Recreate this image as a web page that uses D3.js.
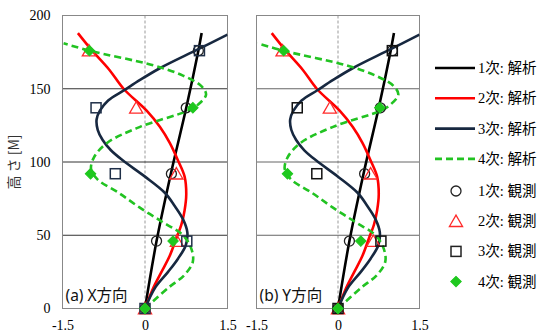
<!DOCTYPE html>
<html>
<head>
<meta charset="utf-8">
<script src="https://cdn.jsdelivr.net/npm/d3@7"></script>
<style>
  body { margin: 0; background: #fff; }
  svg { display: block; }
</style>
</head>
<body>
<script>
// heights of the observed floors [m]
let obsHeights = [0, 46, 92, 137, 176];

// observed mode shapes, X direction (a)
let obsX1 = [0, 0.21, 0.48, 0.75, 0.97];
let obsX2 = [0, 0.58, 0.57, -0.16, -1.02];
let obsX3 = [0, 0.76, -0.54, -0.89, 0.99];
let obsX4 = [0, 0.51, -0.99, 0.87, -1.01];

// observed mode shapes, Y direction (b)
let obsY1 = [0, 0.21, 0.49, 0.78, 1.0];
let obsY2 = [0, 0.65, 0.6, -0.15, -1.02];
let obsY3 = [0, 0.79, -0.39, -0.75, 1.0];
let obsY4 = [0, 0.42, -0.93, 0.77, -1.0];

// analysis mode shapes (height, value)
let mode1H = [0, 46, 92, 137, 176, 188];
let mode1V = [0, 0.21, 0.47, 0.75, 0.97, 1.03];

let mode2H = [0, 14, 25, 36, 48, 57, 67, 78, 90, 101, 113, 124, 135, 150, 163, 176, 188];
let mode2V = [0, 0.15, 0.3, 0.45, 0.57, 0.66, 0.72, 0.75, 0.72, 0.6, 0.45, 0.27, 0.03, -0.39, -0.65, -0.96, -1.22];

let mode3H = [0, 14, 25, 34, 43, 52, 61, 70, 79, 90, 101, 108, 115, 122, 129, 135, 142, 149, 156, 164, 177, 187];
let mode3V = [0, 0.18, 0.42, 0.6, 0.74, 0.77, 0.69, 0.54, 0.36, 0.0, -0.4, -0.62, -0.77, -0.86, -0.88, -0.82, -0.67, -0.38, -0.09, 0.27, 0.97, 1.5];

let mode4H = [0, 14, 23, 32, 41, 50, 59, 69, 79, 88, 95, 103, 113, 124, 135, 139, 146, 152, 159, 166, 176, 181];
let mode4V = [0, 0.42, 0.72, 0.87, 0.84, 0.69, 0.32, -0.1, -0.48, -0.86, -0.98, -0.93, -0.69, -0.09, 0.78, 0.96, 1.11, 1.02, 0.69, 0.15, -1.01, -1.48];

let yTicks = [0, 50, 100, 150, 200];
let xTicks = [-1.5, 0, 1.5];
let gridValues = [50, 100, 150];

let lineNames = ["1次: 解析", "2次: 解析", "3次: 解析", "4次: 解析"];
let obsNames = ["1次: 観測", "2次: 観測", "3次: 観測", "4次: 観測"];

let width = 541, height = 336;

let svg = d3.select("body")
  .append("svg")
    .attr("width", width)
    .attr("height", height);

let serif = "'Liberation Serif', 'Noto Sans CJK JP', serif";
let cjk = "'Noto Sans CJK JP', sans-serif";

let y = d3.scaleLinear().domain([0, 200]).range([308.5, 15.5]);

let lineStyles = [
  { color: "#000000", dash: null },
  { color: "#ff0000", dash: null },
  { color: "#172840", dash: null },
  { color: "#22c322", dash: "7,4" }
];

let modes = [
  [mode1H, mode1V], [mode2H, mode2V], [mode3H, mode3V], [mode4H, mode4V]
];

let panels = [
  { left: 62.5, right: 227.5, label: "(a) X方向", obs: [obsX1, obsX2, obsX3, obsX4], sq: "#1f2f48", grid: "#333" },
  { left: 256.5, right: 419.5, label: "(b) Y方向", obs: [obsY1, obsY2, obsY3, obsY4], sq: "#111", grid: "#666" }
];

// marker drawing helper
function drawMarker(g, k, cx, cy, sqColor) {
  if (k === 0) {
    g.append("circle").attr("cx", cx).attr("cy", cy).attr("r", 5)
      .attr("fill", "none").attr("stroke", "#222").attr("stroke-width", 1.3);
  } else if (k === 1) {
    g.append("path").attr("d", d3.symbol(d3.symbolTriangle, 75)())
      .attr("transform", "translate(" + cx + "," + (cy + 1.5) + ")")
      .attr("fill", "none").attr("stroke", "#ff2a2a").attr("stroke-width", 1.3);
  } else if (k === 2) {
    g.append("rect").attr("x", cx - 5).attr("y", cy - 5).attr("width", 10).attr("height", 10)
      .attr("fill", "none").attr("stroke", sqColor).attr("stroke-width", 1.5);
  } else {
    g.append("path").attr("d", d3.symbol(d3.symbolSquare, 55)())
      .attr("transform", "translate(" + cx + "," + cy + ") rotate(45)")
      .attr("fill", "#1ec81e").attr("stroke", "#1ec81e").attr("stroke-width", 1);
  }
}

panels.forEach(function(p, pi) {
  let x = d3.scaleLinear().domain([-1.5, 1.5]).range([p.left, p.right]);
  let g = svg.append("g");

  // zero line
  g.append("line")
    .attr("x1", x(0)).attr("x2", x(0))
    .attr("y1", y(0)).attr("y2", y(200))
    .attr("stroke", "#999").attr("stroke-dasharray", "3,2");

  // horizontal grid
  g.selectAll(".grid")
    .data(gridValues).enter().append("line")
    .attr("x1", p.left).attr("x2", p.right)
    .attr("y1", d => y(d)).attr("y2", d => y(d))
    .attr("stroke", p.grid).attr("stroke-width", 1);

  // plot border
  g.append("rect")
    .attr("x", p.left).attr("y", y(200))
    .attr("width", p.right - p.left).attr("height", y(0) - y(200))
    .attr("fill", "none").attr("stroke", "#888");

  // analysis lines
  let clipId = "clip" + pi;
  svg.append("clipPath").attr("id", clipId)
    .append("rect")
    .attr("x", p.left).attr("y", y(200))
    .attr("width", p.right - p.left).attr("height", y(0) - y(200));

  let line = d3.line()
    .x(d => x(d[1]))
    .y(d => y(d[0]))
    .curve(d3.curveCatmullRom.alpha(0.5));

  modes.forEach(function(m, k) {
    let pts = m[0].map((h, i) => [h, m[1][i]]);
    g.append("path")
      .attr("d", line(pts))
      .attr("clip-path", "url(#" + clipId + ")")
      .attr("fill", "none")
      .attr("stroke", lineStyles[k].color)
      .attr("stroke-width", 2.6)
      .attr("stroke-dasharray", lineStyles[k].dash);
  });

  // observed points
  p.obs.forEach(function(vals, k) {
    vals.forEach(function(v, i) {
      drawMarker(g, k, x(v), y(obsHeights[i]), p.sq);
    });
  });

  // x axis labels
  let xAxis = d3.axisBottom(x).tickValues(xTicks).tickSize(0).tickPadding(12)
    .tickFormat(d => String(d));
  let ax = g.append("g").attr("transform", "translate(0," + y(0) + ")").call(xAxis);
  ax.select(".domain").remove();
  ax.selectAll("text").attr("font-family", serif).attr("font-size", 14).attr("fill", "#000");

  // panel label
  g.append("text")
    .attr("x", p.left + 3).attr("y", 301)
    .attr("font-family", "'Noto Sans', 'Noto Sans CJK JP', sans-serif")
    .attr("font-size", 15.5)
    .attr("fill", "#111")
    .text(p.label);
});

// y axis labels on the left panel
let yAxis = d3.axisLeft(y).tickValues(yTicks).tickSize(0).tickPadding(12);
let ay = svg.append("g").attr("transform", "translate(62.5,0)").call(yAxis);
ay.select(".domain").remove();
ay.selectAll("text").attr("font-family", serif).attr("font-size", 14).attr("fill", "#000");

svg.append("text")
  .attr("transform", "translate(19,162) rotate(-90)")
  .attr("text-anchor", "middle")
  .attr("font-family", cjk)
  .attr("font-size", 14)
  .attr("fill", "#333")
  .text("高 さ [M]");

// legend
let legend = svg.append("g");
lineNames.forEach(function(name, k) {
  let ly = 68 + k * 30.3;
  legend.append("line")
    .attr("x1", 435).attr("x2", 475)
    .attr("y1", ly).attr("y2", ly)
    .attr("stroke", lineStyles[k].color)
    .attr("stroke-width", 2.6)
    .attr("stroke-dasharray", lineStyles[k].dash);
  legend.append("text")
    .attr("x", 478).attr("y", ly + 5)
    .attr("font-family", serif).attr("font-size", 14.5)
    .text(name);
});
obsNames.forEach(function(name, k) {
  let ly = 191 + k * 30.2;
  drawMarker(legend, k, 456, ly, "#222");
  legend.append("text")
    .attr("x", 478).attr("y", ly + 5)
    .attr("font-family", serif).attr("font-size", 14.5)
    .text(name);
});
</script>
</body>
</html>
